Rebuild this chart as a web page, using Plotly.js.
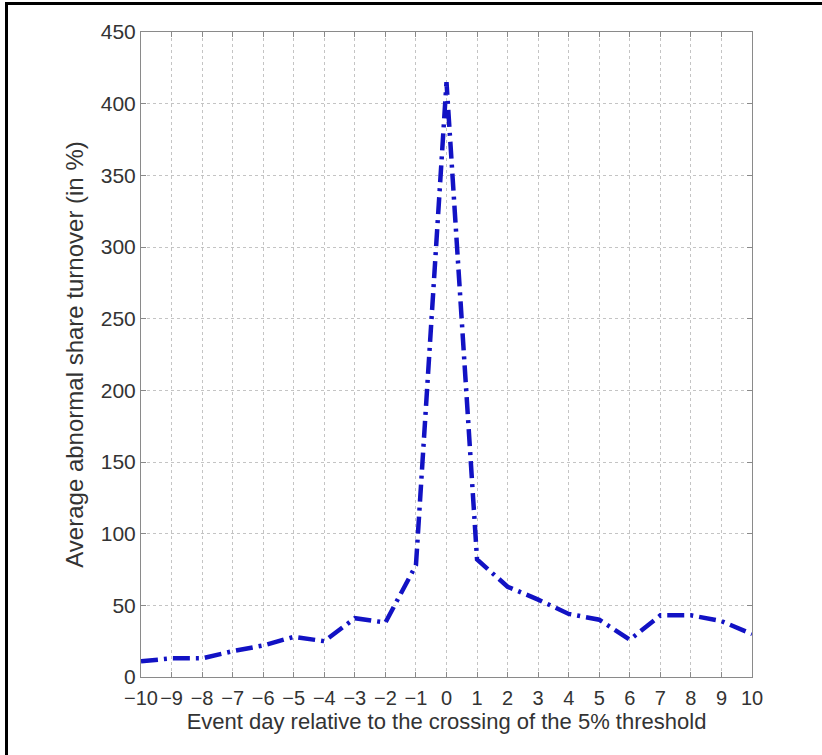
<!DOCTYPE html>
<html>
<head>
<meta charset="utf-8">
<script src="https://cdn.plot.ly/plotly-3.0.1.min.js"></script>
<style>
html,body{margin:0;padding:0;background:#fff;}
#wrap{position:relative;width:822px;height:755px;}
#chart{position:absolute;left:0;top:0;width:822px;height:755px;}
#frame{position:absolute;left:5px;top:2px;right:0;bottom:0;border-top:3px solid #000;border-left:3px solid #000;pointer-events:none;}
</style>
</head>
<body>
<div id="wrap"><div id="chart"></div><div id="frame"></div></div>
<script>
const eventDays = [-10,-9,-8,-7,-6,-5,-4,-3,-2,-1,0,1,2,3,4,5,6,7,8,9,10];
const turnover = [11,13,13,18,22,28,25,41,38,78,415,82,63,54,44,40,26,43,43,39,30];
const xTicks = [-10,-9,-8,-7,-6,-5,-4,-3,-2,-1,0,1,2,3,4,5,6,7,8,9,10];
const yTicks = [0,50,100,150,200,250,300,350,400,450];

const trace = {
  x: eventDays, y: turnover, type: 'scatter', mode: 'lines',
  line: {color: '#1212c4', width: 4.5, dash: '17px,6px,3px,6px'},
  hoverinfo: 'skip'
};
const fontFam = 'Liberation Sans, Arial, sans-serif';
const axisCommon = {
  showline: true, linecolor: '#8a8a8a', linewidth: 1, mirror: 'ticks',
  ticks: 'inside', ticklen: 5, tickcolor: '#8a8a8a',
  showgrid: true, gridcolor: '#c4c4c4', griddash: 'dot', gridwidth: 1,
  zeroline: false
};
const layout = {
  width: 822, height: 755,
  margin: {l: 141, r: 70, t: 32, b: 78},
  paper_bgcolor: '#fff', plot_bgcolor: '#fff',
  showlegend: false,
  xaxis: Object.assign({}, axisCommon, {
    range: [-10, 10], tickmode: 'array', tickvals: xTicks,
    ticktext: xTicks.map(v => v < 0 ? '\u2212' + Math.abs(v) : String(v)),
    ticklabelstandoff: 3,
    tickfont: {family: fontFam, size: 20, color: '#333'},
    title: {text: 'Event day relative to the crossing of the 5% threshold', standoff: 1,
      font: {family: fontFam, size: 22, color: '#333'}}
  }),
  yaxis: Object.assign({}, axisCommon, {
    range: [0, 450], tickmode: 'array', tickvals: yTicks,
    tickfont: {family: fontFam, size: 21, color: '#333'},
    title: {text: 'Average abnormal share turnover (in %)', standoff: 10,
      font: {family: fontFam, size: 24, color: '#333'}}
  })
};
Plotly.newPlot('chart', [trace], layout, {displayModeBar: false, staticPlot: true});
</script>
</body>
</html>
